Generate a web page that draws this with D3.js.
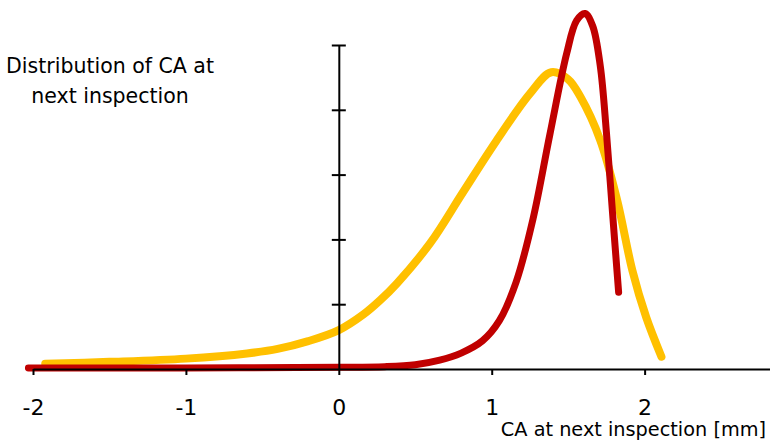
<!DOCTYPE html>
<html>
<head>
<meta charset="utf-8">
<script src="https://cdn.jsdelivr.net/npm/d3@7"></script>
<style>
  body { margin: 0; background: #fff; }
  text { font-family: "DejaVu Sans", sans-serif; }
</style>
</head>
<body>
<div id="chart"></div>
<script>
// values (x in mm, y in arbitrary density units)
const yellowX = [-1.92, -1.5, -1.0, -0.6, -0.4, -0.2, 0, 0.16, 0.27, 0.38, 0.6, 0.81, 1.03, 1.25, 1.39, 1.5, 1.58, 1.71, 1.82, 1.92, 2.01, 2.11]
const yellowY = [0.08, 0.11, 0.16, 0.24, 0.31, 0.43, 0.60, 0.84, 1.06, 1.32, 1.95, 2.72, 3.52, 4.25, 4.58, 4.47, 4.2, 3.53, 2.61, 1.52, 0.8, 0.19]

const redX = [-2.03, -1, 0, 0.3, 0.5, 0.66, 0.8, 0.94, 1.05, 1.16, 1.27, 1.38, 1.49, 1.555, 1.61, 1.66, 1.71, 1.75, 1.79, 1.83]
const redY = [0.0, 0.0, 0.01, 0.02, 0.05, 0.12, 0.23, 0.42, 0.73, 1.33, 2.3, 3.6, 4.85, 5.36, 5.47, 5.28, 4.66, 3.64, 2.4, 1.17]

const xTicks = [-2, -1, 0, 1, 2]
const yTicks = [1, 2, 3, 4, 5]

const yTitle = ["Distribution of CA at", "next inspection"]
const xTitle = "CA at next inspection [mm]"

const size = [770, 441]

const svg = d3.create("svg")
  .attr("width", size[0])
  .attr("height", size[1])

const scaleX = d3.scaleLinear()
  .domain([-2, 2.82])
  .range([33, 770])

const scaleY = d3.scaleLinear()
  .domain([0, 5])
  .range([369, 45])

const line = d3.line()
  .x(d => scaleX(d[0]))
  .y(d => scaleY(d[1]))
  .curve(d3.curveCatmullRom.alpha(0.5))

const yellow = yellowX.map((x, i) => [x, yellowY[i]])
const red = redX.map((x, i) => [x, redY[i]])

svg.append("path")
  .attr("d", line(yellow))
  .attr("fill", "none")
  .attr("stroke", "#FFC000")
  .attr("stroke-width", 8)
  .attr("stroke-linecap", "round")
  .attr("stroke-linejoin", "round")

svg.append("path")
  .attr("d", line(red))
  .attr("transform", "translate(0,-1)")
  .attr("fill", "none")
  .attr("stroke", "#C00000")
  .attr("stroke-width", 7)
  .attr("stroke-linecap", "round")
  .attr("stroke-linejoin", "round")

// x axis
const xAxis = svg.append("g")
  .attr("transform", `translate(0,${scaleY(0)})`)
  .call(d3.axisBottom(scaleX)
    .tickValues(xTicks)
    .tickSize(6)
    .tickSizeOuter(0)
    .tickPadding(24)
    .tickFormat(d => d < 0 ? "-" + Math.abs(d) : d))
xAxis.select(".domain").attr("stroke-width", 2)
xAxis.selectAll(".tick line").attr("stroke-width", 2)
xAxis.selectAll(".tick text")
  .attr("font-size", 22)
  .attr("fill", "#000")

// y axis, no labels, ticks cross the line
const yAxis = svg.append("g")
  .attr("transform", `translate(${scaleX(0)},0)`)
  .call(d3.axisLeft(scaleY)
    .tickValues(yTicks)
    .tickSizeOuter(0)
    .tickFormat(""))
yAxis.select(".domain").attr("stroke-width", 2)
yAxis.selectAll(".tick line")
  .attr("x1", -7)
  .attr("x2", 7)
  .attr("stroke-width", 2)

// titles
svg.append("text")
  .attr("x", 110)
  .attr("y", 73)
  .attr("text-anchor", "middle")
  .attr("font-size", 20.5)
  .selectAll("tspan")
  .data(yTitle)
  .join("tspan")
    .attr("x", 110)
    .attr("dy", (d, i) => i ? 30 : 0)
    .text(d => d)

svg.append("text")
  .attr("x", 766)
  .attr("y", 436)
  .attr("text-anchor", "end")
  .attr("font-size", 19.3)
  .text(xTitle)

d3.select("#chart").append(() => svg.node())
</script>
</body>
</html>
